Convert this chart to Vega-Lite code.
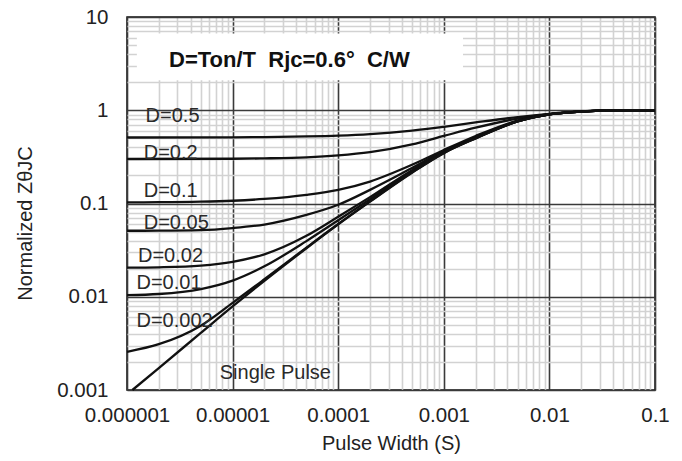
{
  "$schema": "https://vega.github.io/schema/vega-lite/v6.json",
  "autosize": "none",
  "width": 528,
  "height": 373,
  "padding": {"left": 127, "top": 17, "right": 27, "bottom": 71},
  "background": "white",
  "config": {
    "font": "Liberation Sans",
    "view": {"stroke": "#111", "strokeWidth": 1.5}
  },
  "datasets": {
    "curves": [
      {"series": "D=0.5", "x": 1e-6, "y": 0.51}, {"series": "D=0.5", "x": 1e-5, "y": 0.513}, {"series": "D=0.5", "x": 2e-5, "y": 0.516}, {"series": "D=0.5", "x": 5e-5, "y": 0.524}, {"series": "D=0.5", "x": 1e-4, "y": 0.535}, {"series": "D=0.5", "x": 2e-4, "y": 0.555}, {"series": "D=0.5", "x": 5e-4, "y": 0.605}, {"series": "D=0.5", "x": 1e-3, "y": 0.665}, {"series": "D=0.5", "x": 2e-3, "y": 0.74}, {"series": "D=0.5", "x": 5e-3, "y": 0.845}, {"series": "D=0.5", "x": 1e-2, "y": 0.915}, {"series": "D=0.5", "x": 2e-2, "y": 0.97}, {"series": "D=0.5", "x": 3e-2, "y": 0.99}, {"series": "D=0.5", "x": 5e-2, "y": 1.0}, {"series": "D=0.5", "x": 0.1, "y": 1.0},
      {"series": "D=0.2", "x": 1e-6, "y": 0.3}, {"series": "D=0.2", "x": 1e-5, "y": 0.302}, {"series": "D=0.2", "x": 2e-5, "y": 0.305}, {"series": "D=0.2", "x": 5e-5, "y": 0.313}, {"series": "D=0.2", "x": 1e-4, "y": 0.328}, {"series": "D=0.2", "x": 2e-4, "y": 0.355}, {"series": "D=0.2", "x": 5e-4, "y": 0.43}, {"series": "D=0.2", "x": 1e-3, "y": 0.53}, {"series": "D=0.2", "x": 2e-3, "y": 0.65}, {"series": "D=0.2", "x": 5e-3, "y": 0.815}, {"series": "D=0.2", "x": 1e-2, "y": 0.91}, {"series": "D=0.2", "x": 2e-2, "y": 0.968}, {"series": "D=0.2", "x": 3e-2, "y": 0.99}, {"series": "D=0.2", "x": 5e-2, "y": 1.0}, {"series": "D=0.2", "x": 0.1, "y": 1.0},
      {"series": "D=0.1", "x": 1e-6, "y": 0.103}, {"series": "D=0.1", "x": 2e-6, "y": 0.1032}, {"series": "D=0.1", "x": 5e-6, "y": 0.1045}, {"series": "D=0.1", "x": 1e-5, "y": 0.107}, {"series": "D=0.1", "x": 2e-5, "y": 0.112}, {"series": "D=0.1", "x": 5e-5, "y": 0.124}, {"series": "D=0.1", "x": 1e-4, "y": 0.14}, {"series": "D=0.1", "x": 2e-4, "y": 0.172}, {"series": "D=0.1", "x": 5e-4, "y": 0.26}, {"series": "D=0.1", "x": 1e-3, "y": 0.375}, {"series": "D=0.1", "x": 2e-3, "y": 0.53}, {"series": "D=0.1", "x": 5e-3, "y": 0.775}, {"series": "D=0.1", "x": 1e-2, "y": 0.907}, {"series": "D=0.1", "x": 2e-2, "y": 0.968}, {"series": "D=0.1", "x": 3e-2, "y": 0.99}, {"series": "D=0.1", "x": 5e-2, "y": 1.0}, {"series": "D=0.1", "x": 0.1, "y": 1.0},
      {"series": "D=0.05", "x": 1e-6, "y": 0.051}, {"series": "D=0.05", "x": 2e-6, "y": 0.0511}, {"series": "D=0.05", "x": 5e-6, "y": 0.0518}, {"series": "D=0.05", "x": 1e-5, "y": 0.0545}, {"series": "D=0.05", "x": 2e-5, "y": 0.0595}, {"series": "D=0.05", "x": 5e-5, "y": 0.0755}, {"series": "D=0.05", "x": 1e-4, "y": 0.097}, {"series": "D=0.05", "x": 2e-4, "y": 0.14}, {"series": "D=0.05", "x": 5e-4, "y": 0.24}, {"series": "D=0.05", "x": 1e-3, "y": 0.365}, {"series": "D=0.05", "x": 2e-3, "y": 0.515}, {"series": "D=0.05", "x": 5e-3, "y": 0.767}, {"series": "D=0.05", "x": 1e-2, "y": 0.905}, {"series": "D=0.05", "x": 2e-2, "y": 0.968}, {"series": "D=0.05", "x": 3e-2, "y": 0.99}, {"series": "D=0.05", "x": 5e-2, "y": 1.0}, {"series": "D=0.05", "x": 0.1, "y": 1.0},
      {"series": "D=0.02", "x": 1e-6, "y": 0.0205}, {"series": "D=0.02", "x": 2e-6, "y": 0.0207}, {"series": "D=0.02", "x": 5e-6, "y": 0.0216}, {"series": "D=0.02", "x": 1e-5, "y": 0.0237}, {"series": "D=0.02", "x": 2e-5, "y": 0.0285}, {"series": "D=0.02", "x": 5e-5, "y": 0.045}, {"series": "D=0.02", "x": 1e-4, "y": 0.072}, {"series": "D=0.02", "x": 2e-4, "y": 0.117}, {"series": "D=0.02", "x": 5e-4, "y": 0.228}, {"series": "D=0.02", "x": 1e-3, "y": 0.358}, {"series": "D=0.02", "x": 2e-3, "y": 0.508}, {"series": "D=0.02", "x": 5e-3, "y": 0.763}, {"series": "D=0.02", "x": 1e-2, "y": 0.905}, {"series": "D=0.02", "x": 2e-2, "y": 0.968}, {"series": "D=0.02", "x": 3e-2, "y": 0.99}, {"series": "D=0.02", "x": 5e-2, "y": 1.0}, {"series": "D=0.02", "x": 0.1, "y": 1.0},
      {"series": "D=0.01", "x": 1e-6, "y": 0.0104}, {"series": "D=0.01", "x": 2e-6, "y": 0.0107}, {"series": "D=0.01", "x": 5e-6, "y": 0.0121}, {"series": "D=0.01", "x": 1e-5, "y": 0.0149}, {"series": "D=0.01", "x": 2e-5, "y": 0.0212}, {"series": "D=0.01", "x": 5e-5, "y": 0.0395}, {"series": "D=0.01", "x": 1e-4, "y": 0.066}, {"series": "D=0.01", "x": 2e-4, "y": 0.111}, {"series": "D=0.01", "x": 5e-4, "y": 0.222}, {"series": "D=0.01", "x": 1e-3, "y": 0.353}, {"series": "D=0.01", "x": 2e-3, "y": 0.504}, {"series": "D=0.01", "x": 5e-3, "y": 0.761}, {"series": "D=0.01", "x": 1e-2, "y": 0.904}, {"series": "D=0.01", "x": 2e-2, "y": 0.968}, {"series": "D=0.01", "x": 3e-2, "y": 0.99}, {"series": "D=0.01", "x": 5e-2, "y": 1.0}, {"series": "D=0.01", "x": 0.1, "y": 1.0},
      {"series": "D=0.002", "x": 1e-6, "y": 0.00257}, {"series": "D=0.002", "x": 2e-6, "y": 0.0031}, {"series": "D=0.002", "x": 5e-6, "y": 0.0049}, {"series": "D=0.002", "x": 1e-5, "y": 0.0086}, {"series": "D=0.002", "x": 2e-5, "y": 0.0154}, {"series": "D=0.002", "x": 5e-5, "y": 0.0337}, {"series": "D=0.002", "x": 1e-4, "y": 0.0603}, {"series": "D=0.002", "x": 2e-4, "y": 0.1055}, {"series": "D=0.002", "x": 5e-4, "y": 0.2155}, {"series": "D=0.002", "x": 1e-3, "y": 0.3485}, {"series": "D=0.002", "x": 2e-3, "y": 0.5}, {"series": "D=0.002", "x": 5e-3, "y": 0.76}, {"series": "D=0.002", "x": 1e-2, "y": 0.904}, {"series": "D=0.002", "x": 2e-2, "y": 0.968}, {"series": "D=0.002", "x": 3e-2, "y": 0.99}, {"series": "D=0.002", "x": 5e-2, "y": 1.0}, {"series": "D=0.002", "x": 0.1, "y": 1.0},
      {"series": "Single Pulse", "x": 1.125e-6, "y": 0.001}, {"series": "Single Pulse", "x": 2e-6, "y": 0.00172}, {"series": "Single Pulse", "x": 5e-6, "y": 0.00409}, {"series": "Single Pulse", "x": 1e-5, "y": 0.00787}, {"series": "Single Pulse", "x": 2e-5, "y": 0.0148}, {"series": "Single Pulse", "x": 5e-5, "y": 0.0331}, {"series": "Single Pulse", "x": 1e-4, "y": 0.0597}, {"series": "Single Pulse", "x": 2e-4, "y": 0.1047}, {"series": "Single Pulse", "x": 5e-4, "y": 0.214}, {"series": "Single Pulse", "x": 1e-3, "y": 0.347}, {"series": "Single Pulse", "x": 2e-3, "y": 0.499}, {"series": "Single Pulse", "x": 5e-3, "y": 0.76}, {"series": "Single Pulse", "x": 1e-2, "y": 0.904}, {"series": "Single Pulse", "x": 2e-2, "y": 0.968}, {"series": "Single Pulse", "x": 3e-2, "y": 0.99}, {"series": "Single Pulse", "x": 5e-2, "y": 1.0}, {"series": "Single Pulse", "x": 0.1, "y": 1.0}
    ],
    "labels": [
      {"text": "D=0.5", "x": 1.5e-6, "y": 0.86},
      {"text": "D=0.2", "x": 1.44e-6, "y": 0.348},
      {"text": "D=0.1", "x": 1.44e-6, "y": 0.137},
      {"text": "D=0.05", "x": 1.44e-6, "y": 0.062},
      {"text": "D=0.02", "x": 1.27e-6, "y": 0.0272},
      {"text": "D=0.01", "x": 1.23e-6, "y": 0.0139},
      {"text": "D=0.002", "x": 1.23e-6, "y": 0.0055},
      {"text": "Single Pulse", "x": 7.56e-6, "y": 0.00153}
    ],
    "box": [{"x": 1.24e-6, "x2": 1.52e-3, "y": 6.64, "y2": 2.1}],
    "note": [{"text": "D=Ton/T\u00a0\u00a0Rjc=0.6\u00b0\u00a0\u00a0C/W", "x": 3.45e-5, "y": 3.43}]
  },
  "resolve": {"axis": {"x": "independent", "y": "independent"}},
  "layer": [
    {
      "data": {"name": "box"},
      "mark": {"type": "rect", "fill": "white", "stroke": null},
      "encoding": {
        "x": {"field": "x", "type": "quantitative",
          "scale": {"type": "log", "domain": [1e-6, 0.1], "nice": false},
          "axis": {"orient": "bottom", "values": [2e-6,3e-6,4e-6,5e-6,6e-6,7e-6,8e-6,9e-6,2e-5,3e-5,4e-5,5e-5,6e-5,7e-5,8e-5,9e-5,2e-4,3e-4,4e-4,5e-4,6e-4,7e-4,8e-4,9e-4,2e-3,3e-3,4e-3,5e-3,6e-3,7e-3,8e-3,9e-3,2e-2,3e-2,4e-2,5e-2,6e-2,7e-2,8e-2,9e-2],
            "grid": true, "gridColor": "#d2d2d2", "gridWidth": 1.6, "labels": false, "ticks": false, "domain": false, "title": null}},
        "x2": {"field": "x2"},
        "y": {"field": "y", "type": "quantitative",
          "scale": {"type": "log", "domain": [0.001, 10], "nice": false},
          "axis": {"orient": "left", "values": [0.002,0.003,0.004,0.005,0.006,0.007,0.008,0.009,0.02,0.03,0.04,0.05,0.06,0.07,0.08,0.09,0.2,0.3,0.4,0.5,0.6,0.7,0.8,0.9,2,3,4,5,6,7,8,9],
            "grid": true, "gridColor": "#d2d2d2", "gridWidth": 1.6, "labels": false, "ticks": false, "domain": false, "title": null}},
        "y2": {"field": "y2"}
      }
    },
    {
      "data": {"name": "curves"},
      "mark": {"type": "line", "color": "#111", "strokeWidth": 2.3, "interpolate": "monotone"},
      "encoding": {
        "x": {"field": "x", "type": "quantitative",
          "axis": {"orient": "bottom", "values": [1e-6, 1e-5, 1e-4, 1e-3, 1e-2, 0.1], "format": "~f",
            "grid": true, "gridColor": "#3a3a3a", "gridWidth": 1.6, "ticks": false, "domain": false,
            "labelFontSize": 20.5, "labelColor": "#222", "labelPadding": 31, "labelBaseline": "alphabetic", "labelFlush": false, "labelOverlap": false,
            "title": "Pulse Width (S)", "titleFontSize": 20, "titleFontWeight": "normal", "titleColor": "#222", "titleBaseline": "alphabetic", "titleY": 59}},
        "y": {"field": "y", "type": "quantitative",
          "axis": {"orient": "left", "values": [0.001, 0.01, 0.1, 1, 10], "format": "~f",
            "grid": true, "gridColor": "#3a3a3a", "gridWidth": 1.6, "ticks": false, "domain": false,
            "labelFontSize": 20.5, "labelColor": "#222", "labelPadding": 19, "labelFlush": false, "labelOverlap": false,
            "title": "Normalized Z\u03b8JC", "titleFontSize": 20, "titleFontWeight": "normal", "titleColor": "#222", "titleX": -102, "titleY": 206, "titleBaseline": "middle"}},
        "detail": {"field": "series"}
      }
    },
    {
      "data": {"name": "labels"},
      "mark": {"type": "text", "align": "left", "baseline": "middle", "fontSize": 20, "color": "#2a2a2a"},
      "encoding": {
        "x": {"field": "x", "type": "quantitative", "axis": null},
        "y": {"field": "y", "type": "quantitative", "axis": null},
        "text": {"field": "text"}
      }
    },
    {
      "data": {"name": "note"},
      "mark": {"type": "text", "align": "center", "baseline": "middle", "fontSize": 22, "fontWeight": "bold", "color": "#111"},
      "encoding": {
        "x": {"field": "x", "type": "quantitative", "axis": null},
        "y": {"field": "y", "type": "quantitative", "axis": null},
        "text": {"field": "text"}
      }
    }
  ]
}
